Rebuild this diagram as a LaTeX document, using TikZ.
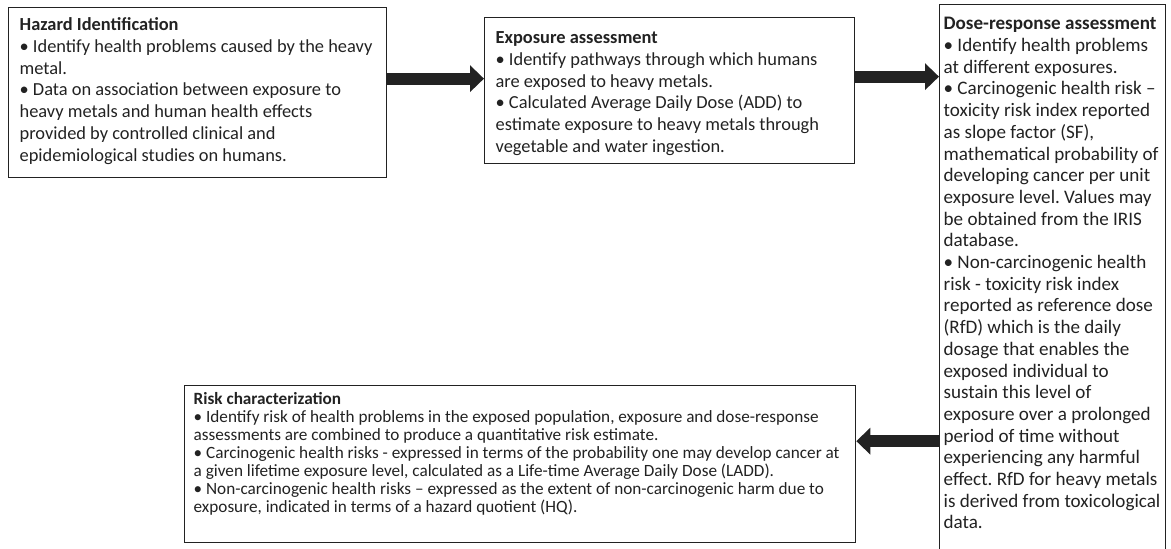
\documentclass[tikz,border=0pt]{standalone}
\usepackage{fontspec}
\setmainfont{Carlito}
\usetikzlibrary{arrows.meta}
\definecolor{Ink}{HTML}{222222}
\frenchspacing
\newcommand{\stagetext}[3]{\begin{minipage}[c][#1][t]{#2}\raggedright\strut #3\end{minipage}}

\begin{document}
\begin{tikzpicture}[x=1pt,y=-1pt,>={Triangle[length=14pt,width=26pt]},
    stagebox/.style={draw=Ink,line width=1.3pt,anchor=north west,inner xsep=11pt,inner ysep=8pt,text=Ink,font=\fontsize{18.4}{21.7}\selectfont},
    bigarrow/.style={draw=Ink,line width=12pt,->}]
        \useasboundingbox (0,0) rectangle (1171,549);
        \node[stagebox] (hazard) at (8,7) {\stagetext{154pt}{356pt}{\textbf{Hazard Identification}\\
          • Identify health problems caused by the heavy\\
          metal.\\
          • Data on association between exposure to\\
          heavy metals and human health effects\\
          provided by controlled clinical and\\
          epidemiological studies on humans.}};
        \node[stagebox,inner ysep=11pt] (exposure) at (484,17) {\stagetext{124pt}{348pt}{\textbf{Exposure assessment}\\
          • Identify pathways through which humans\\
          are exposed to heavy metals.\\
          • Calculated Average Daily Dose (ADD) to\\
          estimate exposure to heavy metals through\\
          vegetable and water ingestion.}};
        \node[stagebox,inner xsep=4pt,inner ysep=10pt,font=\fontsize{19.1}{21.7}\selectfont] (dose) at (939,4) {\stagetext{546pt}{218pt}{\textbf{Dose-response assessment}\\
          • Identify health problems\\
          at different exposures.\\
          • Carcinogenic health risk –\\
          toxicity risk index reported\\
          as slope factor (SF),\\
          mathematical probability of\\
          developing cancer per unit\\
          exposure level. Values may\\
          be obtained from the IRIS\\
          database.\\
          • Non-carcinogenic health\\
          risk - toxicity risk index\\
          reported as reference dose\\
          (RfD) which is the daily\\
          dosage that enables the\\
          exposed individual to\\
          sustain this level of\\
          exposure over a prolonged\\
          period of time without\\
          experiencing any harmful\\
          effect. RfD for heavy metals\\
          is derived from toxicological\\
          data.}};
        \node[stagebox,inner xsep=9pt,inner ysep=6pt,font=\fontsize{17.2}{18}\selectfont] (risk) at (184,385) {\stagetext{145pt}{653pt}{\textbf{Risk characterization}\\
          • Identify risk of health problems in the exposed population, exposure and dose-response\\
          assessments are combined to produce a quantitative risk estimate.\\
          • Carcinogenic health risks - expressed in terms of the probability one may develop cancer at\\
          a given lifetime exposure level, calculated as a Life-time Average Daily Dose (LADD).\\
          • Non-carcinogenic health risks – expressed as the extent of non-carcinogenic harm due to\\
          exposure, indicated in terms of a hazard quotient (HQ).}};
        \draw[bigarrow] ([yshift=14pt]hazard.east) -- ([yshift=14pt]hazard.east -| exposure.west);
        \draw[bigarrow] ([yshift=14pt]exposure.east) -- ([yshift=14pt]exposure.east -| dose.west);
        \draw[bigarrow] ([yshift=23pt]risk.east -| dose.west) -- ([yshift=23pt]risk.east);
      \end{tikzpicture}
\end{document}
